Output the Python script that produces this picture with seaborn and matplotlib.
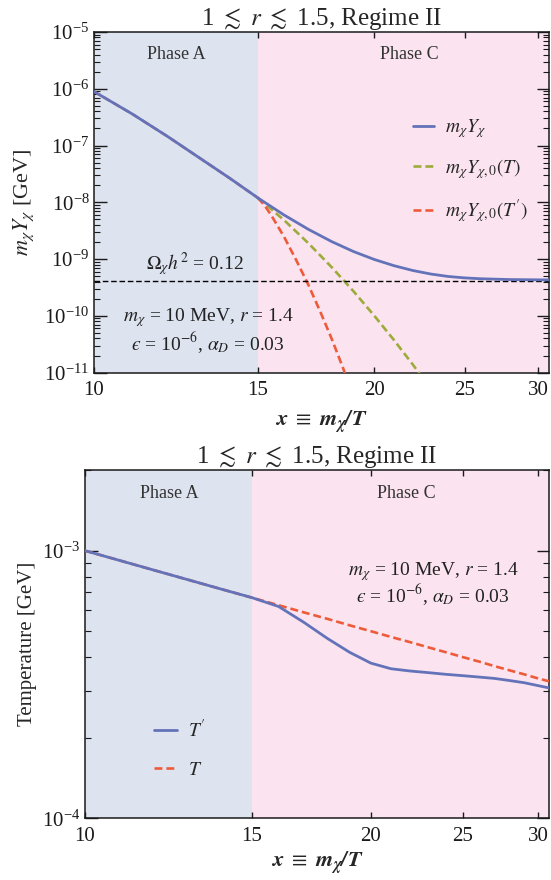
import numpy as np
import pandas as pd
import seaborn as sns
import matplotlib
import matplotlib.pyplot as plt
from matplotlib.ticker import FixedLocator, FixedFormatter, NullLocator, LogLocator

matplotlib.use('Agg')

# ---- top panel: yields (GeV) vs x = m_chi / T ----
x_phase_a = [10, 11, 12, 13, 14, 15]
yield_phase_a = [9.0e-7, 3.6e-7, 1.45e-7, 6.0e-8, 2.65e-8, 1.2e-8]

x_chi = [15, 16, 17, 18, 19, 20, 21, 22, 23, 24, 25, 26, 28, 30.8]
yield_chi = [1.2e-8, 6.01e-9, 3.34e-9, 2.04e-9, 1.36e-9, 9.86e-10, 7.66e-10, 6.30e-10,
             5.46e-10, 4.95e-10, 4.67e-10, 4.51e-10, 4.36e-10, 4.30e-10]

x_eq_T = [15, 16, 17, 18, 19, 20, 21, 22, 23]
yield_eq_T = [1.2e-8, 4.89e-9, 1.90e-9, 7.23e-10, 2.72e-10, 1.01e-10, 3.75e-11, 1.39e-11, 5.2e-12]

x_eq_Tp = [15, 15.25, 15.5, 16, 16.5, 17, 17.5, 18, 18.5, 19]
yield_eq_Tp = [1.2e-8, 8.9e-9, 6.0e-9, 2.5e-9, 9.5e-10, 3.5e-10, 1.2e-10, 4.0e-11, 1.26e-11, 3.8e-12]

relic_yield = 4.15e-10

# ---- bottom panel: temperatures (GeV) ----
x_temp = [10, 11, 12, 13, 14, 15, 16, 17, 18, 19, 20, 21, 22, 23, 24, 25, 26, 27, 28, 29, 30, 30.8]
temp_T = [1.0e-3, 9.09e-4, 8.33e-4, 7.69e-4, 7.14e-4, 6.67e-4, 6.25e-4, 5.88e-4, 5.56e-4,
          5.26e-4, 5.0e-4, 4.76e-4, 4.55e-4, 4.35e-4, 4.17e-4, 4.0e-4, 3.85e-4, 3.70e-4,
          3.57e-4, 3.45e-4, 3.33e-4, 3.25e-4]
temp_Tp = [1.0e-3, 9.09e-4, 8.33e-4, 7.69e-4, 7.14e-4, 6.67e-4, 6.18e-4, 5.40e-4, 4.70e-4,
           4.17e-4, 3.80e-4, 3.62e-4, 3.55e-4, 3.50e-4, 3.45e-4, 3.41e-4, 3.37e-4, 3.33e-4,
           3.27e-4, 3.21e-4, 3.13e-4, 3.07e-4]

phase_edges = [10, 15, 30.8]
phase_names = ['Phase A', 'Phase C']
phase_label_x = [0.182, 0.693]
x_ticks = [10, 15, 20, 25, 30]

BLUE = '#6473b9'
GREEN = '#9dab3b'
RED = '#ee5b3a'
PHASE_A_BG = '#dde3ef'
PHASE_C_BG = '#fbe4f0'
TEXT = '#222222'

sns.set_style('ticks')
plt.rcParams['font.family'] = ['Liberation Serif', 'DejaVu Serif']
plt.rcParams['mathtext.fontset'] = 'stix'
plt.rcParams['axes.linewidth'] = 1.1
plt.rcParams['axes.edgecolor'] = '#1a1a1a'
plt.rcParams['xtick.direction'] = 'in'
plt.rcParams['ytick.direction'] = 'in'

title = r'1 $\lesssim$ $r$ $\lesssim$ 1.5, Regime II'
param_line1 = r'$m_\chi$ = 10 MeV, $r$ = 1.4'
param_line2 = '$\u03f5$ = 10$^{-6}$, $\\alpha_D$ = 0.03'
xlabel = r'$\mathbfit{x}$ $\equiv$ $\mathbfit{m}_{\mathbfit{\chi}}\mathbfit{/T}$'

fig = plt.figure(figsize=(5.51, 8.80), dpi=100)
ax1 = fig.add_axes([0.1699, 0.5765, 0.8265, 0.3872])
ax2 = fig.add_axes([0.1537, 0.0701, 0.8427, 0.3958])


def style_axis(ax, ylim):
    ax.set_xscale('log')
    ax.set_yscale('log')
    ax.set_xlim(phase_edges[0], phase_edges[-1])
    ax.set_ylim(*ylim)
    ax.axvspan(phase_edges[0], phase_edges[1], color=PHASE_A_BG, lw=0, zorder=0)
    ax.axvspan(phase_edges[1], phase_edges[2], color=PHASE_C_BG, lw=0, zorder=0)
    ax.xaxis.set_major_locator(FixedLocator(x_ticks))
    ax.xaxis.set_major_formatter(FixedFormatter([str(t) for t in x_ticks]))
    ax.xaxis.set_minor_locator(NullLocator())
    ax.yaxis.set_major_locator(LogLocator(base=10, numticks=20))
    ax.yaxis.set_minor_locator(LogLocator(base=10, subs=np.arange(2, 10), numticks=20))
    ax.tick_params(which='both', top=True, right=True, labelsize=15, colors='#1a1a1a')
    ax.tick_params(axis='x', which='major', length=4, width=1, pad=6)
    ax.tick_params(axis='y', which='major', length=9, width=1, pad=3)
    ax.tick_params(axis='y', which='minor', length=4.5, width=0.8)
    for name, xf in zip(phase_names, phase_label_x):
        ax.text(xf, 0.9325, name, fontsize=13, color='#333333',
                ha='center', va='center', transform=ax.transAxes)


# ---- top panel ----
style_axis(ax1, (1e-11, 1e-5))
sns.lineplot(x=x_phase_a, y=yield_phase_a, ax=ax1, color=RED, lw=1.8, ls=(0, (3, 1.5)), zorder=2)
sns.lineplot(x=x_phase_a, y=yield_phase_a, ax=ax1, color=BLUE, lw=2, zorder=4)
sns.lineplot(x=x_chi, y=yield_chi, ax=ax1, color=BLUE, lw=2, zorder=4, label=r'$m_\chi Y_\chi$')
sns.lineplot(x=x_eq_T, y=yield_eq_T, ax=ax1, color=GREEN, lw=1.9, ls=(0, (3, 1.5)), zorder=3,
             label=r'$m_\chi Y_{\chi,0}(T)$')
sns.lineplot(x=x_eq_Tp, y=yield_eq_Tp, ax=ax1, color=RED, lw=1.9, ls=(0, (3, 1.5)), zorder=3,
             label=r"$m_\chi Y_{\chi,0}(T')$")
ax1.axhline(relic_yield, color='black', lw=1, ls=(0, (4, 2)), zorder=3)

ax1.text(0.223, 0.319, r'$\Omega_\chi h^2$ = 0.12', transform=ax1.transAxes,
         fontsize=14, ha='center', va='center', color=TEXT)
ax1.text(0.251, 0.1606, param_line1, transform=ax1.transAxes,
         fontsize=14, ha='center', va='center', color=TEXT)
ax1.text(0.251, 0.0872, param_line2, transform=ax1.transAxes,
         fontsize=14, ha='center', va='center', color=TEXT)

ax1.set_title(title, fontsize=18, pad=5)
ax1.set_xlabel(xlabel, fontsize=16, labelpad=6)
ax1.set_ylabel(r'$m_\chi Y_\chi$ [GeV]', fontsize=16, labelpad=6)

h, l = ax1.get_legend_handles_labels()
ax1.legend(h, l, loc='upper left', bbox_to_anchor=(0.749, 0.8665),
           bbox_transform=fig.transFigure, frameon=False, fontsize=14,
           handlelength=1.1, handletextpad=0.55, labelspacing=0.85,
           borderpad=0, borderaxespad=0)

# ---- bottom panel ----
style_axis(ax2, (1e-4, 2e-3))
sns.lineplot(x=x_temp, y=temp_T, ax=ax2, color=RED, lw=1.9, ls=(0, (3, 1.5)), zorder=3, label=r'$T$')
sns.lineplot(x=x_temp, y=temp_Tp, ax=ax2, color=BLUE, lw=2, zorder=4, label=r"$T'$")

ax2.text(0.75, 0.708, param_line1, transform=ax2.transAxes,
         fontsize=14, ha='center', va='center', color=TEXT)
ax2.text(0.75, 0.641, param_line2, transform=ax2.transAxes,
         fontsize=14, ha='center', va='center', color=TEXT)

ax2.set_title(title, fontsize=18, pad=5)
ax2.set_xlabel(xlabel, fontsize=16, labelpad=3)
ax2.set_ylabel('Temperature [GeV]', fontsize=15, labelpad=4)

h, l = ax2.get_legend_handles_labels()
ax2.legend(h[::-1], l[::-1], loc='upper left', bbox_to_anchor=(0.2795, 0.1835),
           bbox_transform=fig.transFigure, frameon=False, fontsize=14,
           handlelength=1.2, handletextpad=0.55, labelspacing=1.05,
           borderpad=0, borderaxespad=0)

fig.savefig('out.png', dpi=100, facecolor='white')
plt.close(fig)
